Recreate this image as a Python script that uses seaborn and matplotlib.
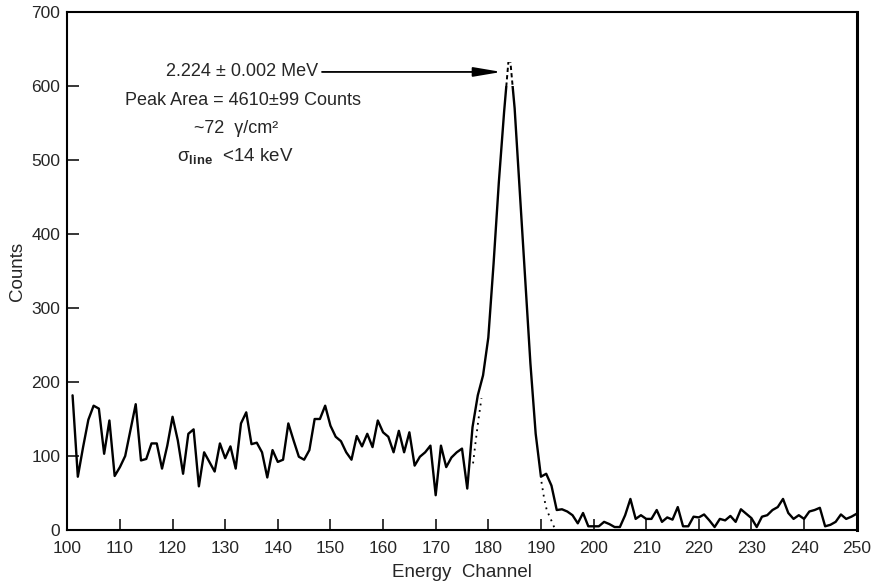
import matplotlib
matplotlib.use("Agg")
import matplotlib.pyplot as plt
import seaborn as sns
from matplotlib.patches import Rectangle

# Gamma-ray spectrum: counts per energy channel
channels = list(range(101, 251))
counts = [
    182, 72, 112, 149, 168, 164, 103, 148, 73, 85,
    100, 135, 170, 94, 96, 117, 117, 83, 114, 153,
    121, 76, 130, 136, 59, 105, 92, 79, 117, 97,
    113, 83, 144, 159, 116, 118, 105, 71, 108, 92,
    95, 144, 121, 99, 95, 108, 150, 150, 168, 141,
    126, 120, 105, 95, 127, 113, 130, 112, 148, 132,
    126, 105, 134, 105, 132, 87, 99, 105, 114, 47,
    114, 85, 98, 105, 110, 56, 139, 182, 209, 260,
    360, 470, 565, 648, 570, 455, 340, 225, 130, 72,
    76, 60, 27, 28, 25, 20, 9, 23, 5, 5,
    5, 11, 8, 4, 4, 20, 42, 15, 20, 15,
    15, 27, 11, 17, 14, 31, 5, 5, 18, 17,
    21, 13, 4, 15, 13, 19, 11, 28, 22, 16,
    4, 18, 20, 27, 31, 42, 23, 15, 20, 15,
    25, 27, 30, 5, 7, 11, 21, 15, 18, 22,
]

# Fitted line-shape tails below the continuum
fit_low_ch = [177.1, 177.6, 178.1, 178.7]
fit_low_counts = [90, 120, 148, 178]
fit_high_ch = [190.1, 190.6, 191.1, 191.85, 192.5, 192.75]
fit_high_counts = [65, 43, 27, 15, 4, 0]

# Solid trace below this level, dashed continuation above it
solid_top = 600
dash_top = 632

x_ticks = list(range(100, 251, 10))
y_ticks = list(range(0, 701, 100))

peak_lines = [
    "2.224 \u00b1 0.002 MeV",
    "Peak Area = 4610\u00b199 Counts",
]
flux_text = "~72  \u03b3/cm\u00b2"
sigma_text = r"$\mathrm{\sigma_{\mathbf{line}}}$  <14 keV"

sns.set_theme(style="ticks")
plt.rcParams["font.family"] = ["Liberation Sans", "DejaVu Sans"]
plt.rcParams["mathtext.fontset"] = "custom"
plt.rcParams["mathtext.rm"] = "Liberation Sans"
plt.rcParams["mathtext.it"] = "Liberation Sans:italic"
plt.rcParams["mathtext.bf"] = "Liberation Sans:bold"

fig = plt.figure(figsize=(8.75, 5.86), dpi=100)
ax = fig.add_axes([67.3 / 875, 1 - 530 / 586, (856.7 - 67.3) / 875, (530 - 12) / 586])

# main spectrum, solid part
sns.lineplot(x=channels, y=counts, ax=ax, color="black", lw=1.7, sort=False,
             estimator=None)
solid = ax.lines[-1]
solid.set_clip_path(Rectangle((100, -10), 150, solid_top + 10, transform=ax.transData))

# dashed continuation of the peak top
sns.lineplot(x=channels, y=counts, ax=ax, color="black", lw=1.4, sort=False,
             estimator=None)
dash = ax.lines[-1]
dash.set_linestyle((0, (2.2, 1.6)))
dash.set_clip_path(Rectangle((100, solid_top), 150, dash_top - solid_top,
                             transform=ax.transData))

# fitted tails (dotted)
for fx, fy in [(fit_low_ch, fit_low_counts), (fit_high_ch, fit_high_counts)]:
    sns.lineplot(x=fx, y=fy, ax=ax, color="black", lw=1.3, sort=False, estimator=None)
    ax.lines[-1].set_linestyle((0, (1, 2.6)))

ax.set_xlim(100, 250)
ax.set_ylim(0, 700)
ax.set_xticks(x_ticks)
ax.set_yticks(y_ticks)
ax.set_xlabel("Energy  Channel", fontsize=13.5, labelpad=6)
ax.set_ylabel("Counts", fontsize=13.5, labelpad=4)

ax.tick_params(axis="x", direction="in", length=8, width=1.3, labelsize=12.5, pad=8,
               top=False)
ax.tick_params(axis="y", direction="in", length=8.5, width=1.3, labelsize=12.5, pad=5,
               right=False)
for side in ["left", "bottom", "top"]:
    ax.spines[side].set_linewidth(1.5)
    ax.spines[side].set_color("black")
ax.spines["right"].set_linewidth(2.2)
ax.spines["right"].set_color("black")

# peak annotation
ax.annotate("", xy=(182.5, 619), xytext=(148.4, 619),
            arrowprops=dict(arrowstyle="-|>,head_length=1.3,head_width=0.22",
                            color="black", lw=1.3, mutation_scale=13,
                            shrinkA=0, shrinkB=0))
ax.text(133.3, 619, peak_lines[0], ha="center", va="center", fontsize=13)
ax.text(133.3, 580, peak_lines[1], ha="center", va="center", fontsize=13)
ax.text(132.0, 543, flux_text, ha="center", va="center", fontsize=13)
ax.text(132.0, 506, sigma_text, ha="center", va="center", fontsize=13.5)

fig.savefig("out.png", dpi=100)
